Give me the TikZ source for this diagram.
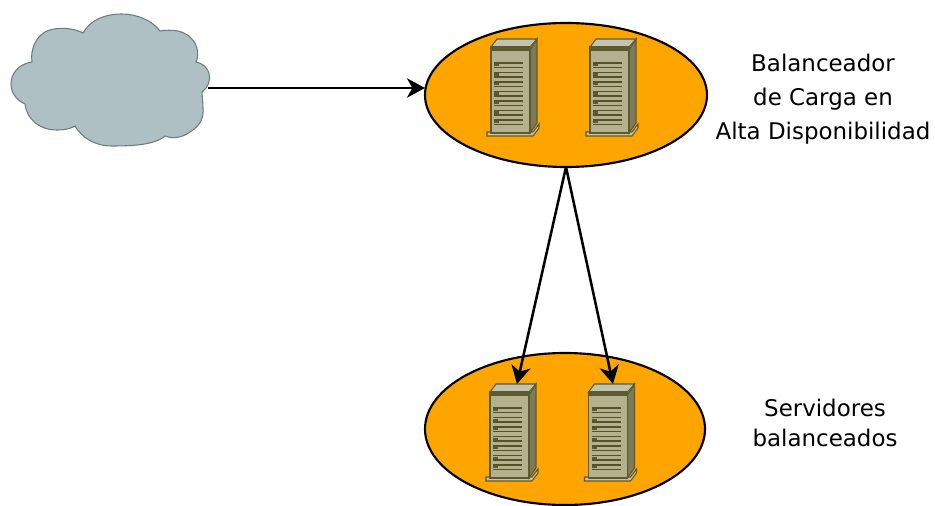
\documentclass[tikz,border=0pt]{standalone}
\usepackage{fontspec}
\setmainfont{DejaVu Sans}
\usetikzlibrary{shapes.geometric,arrows.meta}
\definecolor{orangefill}{HTML}{FFA500}
\definecolor{cloudfill}{HTML}{AEC0C3}
\definecolor{cloudline}{HTML}{6F7C7E}
\definecolor{srvfront}{HTML}{B4B28E}
\definecolor{srvtop}{HTML}{C2C4AE}
\definecolor{srvside}{HTML}{7B7B5C}
\definecolor{srvline}{HTML}{5E5A30}
\tikzset{
  x=0.75pt,y=-0.75pt,
  group/.style={ellipse,draw=black,line width=1.6pt,fill=orangefill,inner sep=0pt,outer sep=0pt},
  conn/.style={line width=1.9pt,-{Stealth[length=13.5pt,width=14.5pt,inset=4pt]}},
  caption/.style={align=center,text=black},
  server/.pic={
    \draw[srvline,line width=.8pt,fill=srvtop] (-4,93) -- (42,93) -- (48,85) -- (48,89) -- (42,97) -- (-4,97) -- cycle;
    \draw[srvline,line width=.8pt,fill=srvside] (39,11) -- (46,0) -- (46,84) -- (39,94) -- cycle;
    \draw[srvline,line width=.8pt,fill=srvtop] (0,8) -- (6,0) -- (46,0) -- (39,8) -- cycle;
    \draw[srvline,line width=.8pt,fill=srvfront] (0,8) rectangle (39,94);
    \fill[srvline] (0,9) rectangle (39,12);
    \foreach \yy in {24,33.5,43,52.5,62,71.5,81}{
      \draw[srvline!90!black,line width=.8pt] (3,\yy) -- (32,\yy);
      \draw[srvline!90!black,line width=.8pt] (3,\yy+4.5) -- (32,\yy+4.5);
      \fill[srvline] (3,\yy+1) rectangle (8,\yy+3.4);
    }
  }
}
\begin{document}
\begin{tikzpicture}
\useasboundingbox (0,0) rectangle (935,506);
% cloud
\draw[cloudline,line width=.8pt,fill=cloudfill]
  (32,62) .. controls (18,64) and (11,74) .. (11,84)
  .. controls (11,94) and (18,101) .. (25,104)
  .. controls (27,120) and (40,130) .. (57,130)
  .. controls (64,130) and (70,129) .. (75,126)
  .. controls (82,138) and (95,146) .. (112,146)
  .. controls (132,146) and (155,145) .. (165,136)
  .. controls (172,139) and (182,138) .. (190,132)
  .. controls (200,126) and (204,118) .. (203,108)
  .. controls (203,102) and (202,96) .. (202,92)
  .. controls (208,88) and (211,80) .. (209,73)
  .. controls (207,67) and (202,63) .. (196,62)
  .. controls (202,48) and (192,34) .. (178,31)
  .. controls (172,30) and (166,30) .. (160,31)
  .. controls (152,20) and (136,14) .. (122,14)
  .. controls (105,14) and (90,20) .. (83,33)
  .. controls (74,28) and (56,26) .. (45,32)
  .. controls (36,37) and (30,50) .. (32,62) -- cycle;
\coordinate (cloudedge) at (208,88);
% groups
\node[group,minimum width=211.5pt,minimum height=108pt] (lb) at (566,95) {};
\node[group,minimum width=210pt,minimum height=114pt] (web) at (565,429) {};
% servers
\pic at (491,39) {server};
\pic at (590,39) {server};
\pic at (490,384) {server};
\pic at (588.5,384) {server};
% connector ends
\coordinate (s3top) at (517,384);
\coordinate (s4top) at (613,384);
\draw[conn] (cloudedge) -- (lb.west |- cloudedge);
\draw[conn] (lb.south) -- (s3top);
\draw[conn] (lb.south) -- (s4top);
% captions
\node[caption,font=\fontsize{17.2}{25.5}\selectfont] (cap1) at (823,99) {Balanceador\\de Carga en\hspace*{7pt}\\Alta Disponibilidad};
\node[caption,font=\fontsize{17.2}{22.5}\selectfont] (cap2) at (825,423) {Servidores\\balanceados};
\end{tikzpicture}
\end{document}
